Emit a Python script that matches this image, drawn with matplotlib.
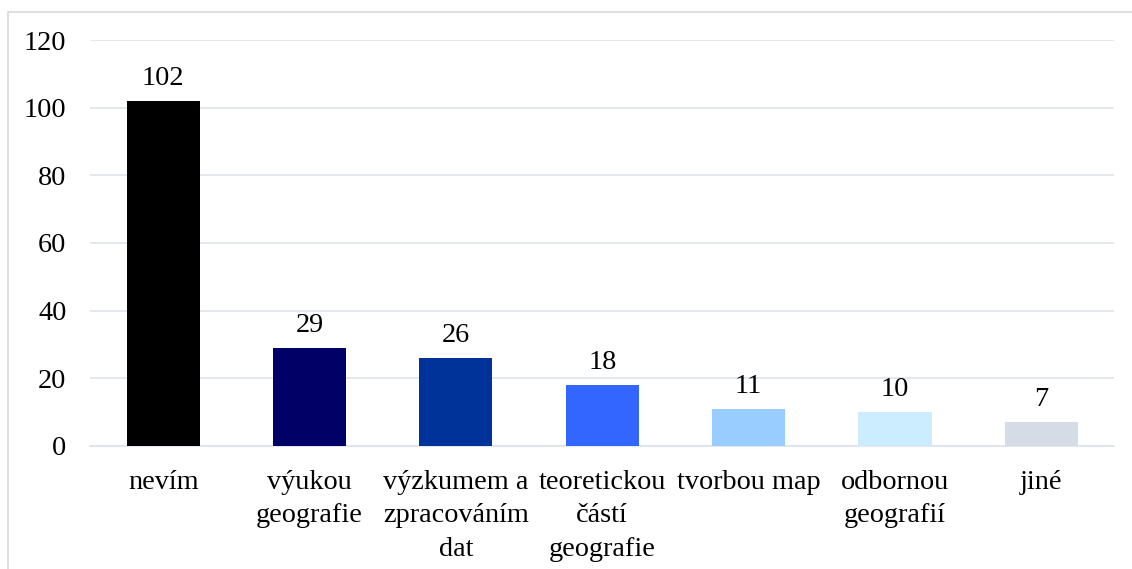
#!/usr/bin/env python3
# === Bar chart: answers by category ===
import matplotlib
matplotlib.use('Agg')
import matplotlib.pyplot as plt
from matplotlib.patches import Rectangle

# === Data ===
categories = ['nevím', 'výukou\ngeografie', 'výzkumem a\nzpracováním\ndat',
              'teoretickou\nčástí\ngeografie', 'tvorbou map', 'odbornou\ngeografií', 'jiné']
values = [102, 29, 26, 18, 11, 10, 7]
colors = ['#000000', '#000066', '#003399', '#3366FF', '#99CCFF', '#CCECFF', '#D6DCE5']
y_ticks = [0, 20, 40, 60, 80, 100, 120]

plt.rcParams['font.family'] = ['Liberation Serif', 'DejaVu Serif']
plt.rcParams['font.size'] = 20.3

fig = plt.figure(figsize=(11.32, 5.69), dpi=100)
ax = fig.add_axes([0.0795, 0.2162, 0.905, 0.7135])

# outer chart frame
fig.patches.append(Rectangle((8 / 1132, -0.01), 1.1, 1 - 12 / 569 + 0.01,
                             transform=fig.transFigure, fill=False,
                             edgecolor='#D9D9D9', linewidth=1.2))

x = range(len(categories))
bars = ax.bar(x, values, width=0.5, color=colors, zorder=3)
for b, v in zip(bars, values):
    ax.text(b.get_x() + b.get_width() / 2, v + 3, str(v), ha='center', va='bottom',
            fontsize=20.3, color='#000000')

ax.set_xlim(-0.5, len(categories) - 0.5)
ax.set_ylim(0, 120)
ax.set_yticks(y_ticks)
ax.set_xticks(list(x))
ax.set_xticklabels(categories, linespacing=1.45)
ax.yaxis.grid(True, color='#DDE3EE', linewidth=1.2, zorder=0)
ax.set_axisbelow(True)
for s in ['top', 'right', 'left']:
    ax.spines[s].set_visible(False)
ax.spines['bottom'].set_color('#DDE3EE')
ax.spines['bottom'].set_linewidth(1.2)
ax.tick_params(axis='both', length=0)
ax.tick_params(axis='x', pad=17)
ax.tick_params(axis='y', pad=17)

fig.savefig('out.png', dpi=100)
